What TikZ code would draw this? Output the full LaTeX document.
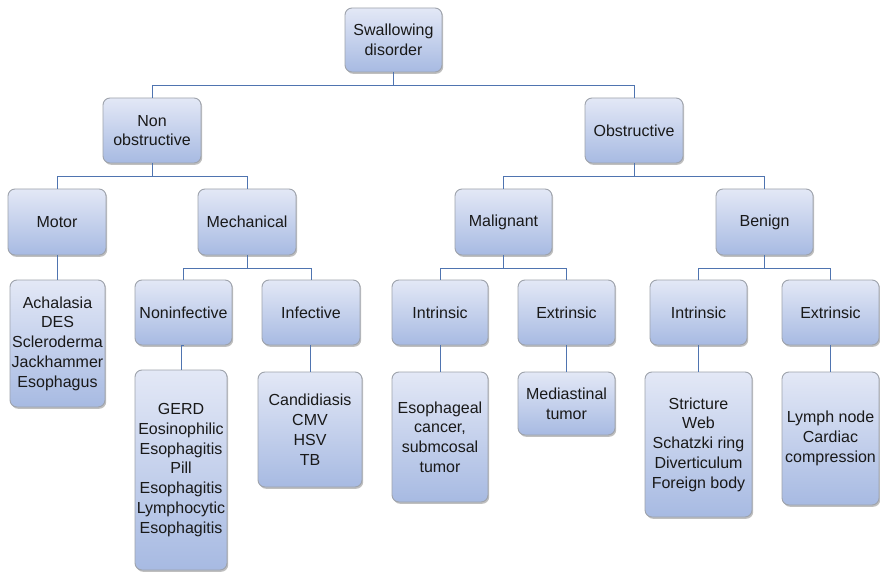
\documentclass[tikz,border=0pt]{standalone}
\usepackage{fontspec}
\setmainfont{Liberation Sans}
\usetikzlibrary{shadows}
\definecolor{boxtop}{HTML}{E3E8F6}
\definecolor{boxbot}{HTML}{A7BAE2}
\definecolor{boxline}{HTML}{9EA3AC}
\definecolor{linkc}{HTML}{4F74B0}
\tikzset{
  box/.style={draw=boxline, line width=0.9pt, rounded corners=7pt,
    top color=boxtop, bottom color=boxbot, align=center,
    inner sep=0pt, font=\fontsize{16}{19.8}\selectfont, text=black!90,
    drop shadow={shadow xshift=1.2pt, shadow yshift=-1.8pt, fill=black, opacity=0.25}},
  link/.style={draw=linkc, line width=0.9pt}
}
\newcommand{\bx}[6]{% name, cx, cy, w, h, text
  \node[box, minimum width=#4pt, minimum height=#5pt] (#1) at (#2,#3) {#6};}
\begin{document}
\begin{tikzpicture}[x=1pt,y=-1pt]
\fill[white] (0,0) rectangle (880,572);
\useasboundingbox (0,0) rectangle (880,572);
\bx{sw}{393.5}{40}{97}{64}{Swallowing\\disorder}
\bx{nonob}{152}{130.5}{98}{65}{Non\\obstructive}
\bx{obst}{634}{130.5}{98}{65}{Obstructive}
\bx{motor}{57}{222}{98}{66}{Motor}
\bx{mech}{247}{222}{98}{66}{Mechanical}
\bx{malig}{503.5}{222}{97}{66}{Malignant}
\bx{benign}{764.5}{222}{97}{66}{Benign}
\bx{noninf}{183.5}{312.5}{97}{65}{Noninfective}
\bx{infect}{311}{312.5}{98}{65}{Infective}
\bx{mintr}{440}{312.5}{96}{65}{Intrinsic}
\bx{mextr}{566.5}{312.5}{97}{65}{Extrinsic}
\bx{bintr}{698.5}{312.5}{97}{65}{Intrinsic}
\bx{bextr}{830.5}{312.5}{97}{65}{Extrinsic}
\bx{motorL}{57.5}{343.5}{95}{127}{Achalasia\\DES\\Scleroderma\\Jackhammer\\Esophagus}
\bx{gerd}{181}{470}{92}{200}{GERD\\Eosinophilic\\Esophagitis\\Pill\\Esophagitis\\Lymphocytic\\Esophagitis}
\bx{infL}{310}{429.5}{104}{115}{Candidiasis\\CMV\\HSV\\TB}
\bx{esoph}{440}{437}{96}{130}{Esophageal\\cancer,\\submcosal\\tumor}
\bx{mediast}{566.5}{403.5}{97}{63}{Mediastinal\\tumor}
\bx{strict}{698.5}{444.5}{107}{145}{Stricture\\Web\\Schatzki ring\\Diverticulum\\Foreign body}
\bx{lymph}{830.5}{438.5}{97}{133}{Lymph node\\Cardiac\\compression}
\coordinate (b1) at (0,85.5);
\coordinate (b2) at (0,176);
\coordinate (b3) at (0,268);
\foreach \p/\c/\b in {sw/nonob/b1, sw/obst/b1, nonob/motor/b2, nonob/mech/b2,
  obst/malig/b2, obst/benign/b2, mech/noninf/b3, mech/infect/b3,
  malig/mintr/b3, malig/mextr/b3, benign/bintr/b3, benign/bextr/b3}
  \draw[link] (\p.south) -- (\p.south |- \b) -| (\c.north);
\foreach \p/\c in {motor/motorL, noninf/gerd, infect/infL, mintr/esoph,
  mextr/mediast, bintr/strict, bextr/lymph}
  \draw[link] (\p.south) -- (\p.south -| \c.north) -- (\c.north);
\end{tikzpicture}
\end{document}
